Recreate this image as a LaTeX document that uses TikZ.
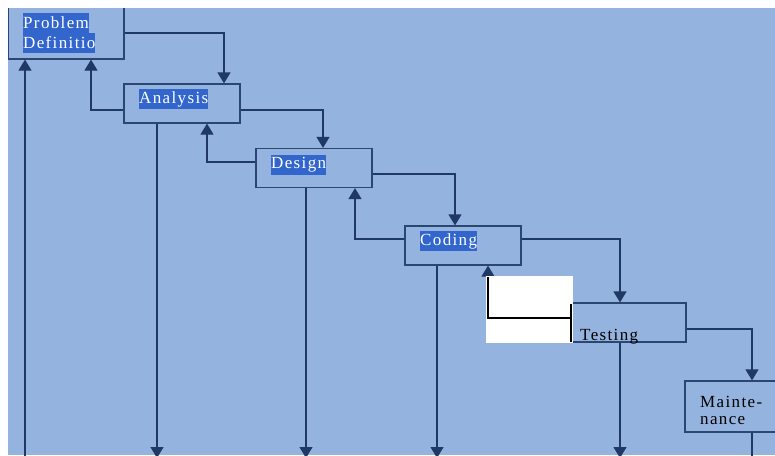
\documentclass[tikz,border=0pt]{standalone}
\usepackage{fontspec}
\setmainfont{Liberation Serif}
\usetikzlibrary{arrows.meta}
\definecolor{bgblue}{RGB}{149,179,223}
\definecolor{navy}{RGB}{31,56,100}
\definecolor{boxc}{RGB}{44,70,114}
\definecolor{hl}{RGB}{51,102,204}
\tikzset{
  stagebox/.style={draw=boxc, line width=1.2pt, minimum width=116pt, minimum height=39pt, inner sep=0pt},
  conn/.style={draw=navy, line width=1.2pt, -{Triangle[width=13pt,length=11pt]}},
  plainline/.style={draw=navy, line width=1.2pt},
  hltext/.style={fill=hl, text=white, inner xsep=0pt, inner ysep=0pt, minimum height=20pt, anchor=west, font=\spacedfont},
  bltext/.style={text=black, inner sep=0pt, anchor=west, font=\spacedfont},
}
\newfontfamily\spacedfamily[LetterSpace=8]{Liberation Serif}
\newcommand{\spacedfont}{\spacedfamily\fontsize{17pt}{20pt}\selectfont}
\begin{document}
\begin{tikzpicture}[x=1pt,y=-1pt]
\useasboundingbox (0,0) rectangle (775,455);
\fill[white] (0,0) rectangle (775,455);
\begin{scope}
\clip (8,8) rectangle (775,455);
\fill[bgblue] (8,8) rectangle (775,455);
% boxes
\node[stagebox, minimum height=60pt] (pd) at (66,29) {};
\node[stagebox] (an) at (182,103.5) {};
\node[stagebox] (de) at (314,168) {};
\node[stagebox] (co) at (463,245.5) {};
\node[stagebox, minimum width=114pt] (te) at (629,322.5) {};
\node[stagebox, minimum height=51pt] (ma) at (743,406.5) {};
% bottom coordinates
\coordinate (b0) at (25,470);
\coordinate (b1) at (157,458);
\coordinate (b2) at (306,458);
\coordinate (b3) at (437,458);
\coordinate (b4) at (620,458);
\coordinate (b5) at (752,470);
% forward connectors
\draw[conn] ([yshift=-4pt]pd.east) -| ([xshift=42pt]an.north);
\draw[conn] ([yshift=-6.5pt]an.east) -| ([xshift=9pt]de.north);
\draw[conn] ([yshift=-6pt]de.east) -| ([xshift=-8pt]co.north);
\draw[conn] ([yshift=6.5pt]co.east) -| ([xshift=-9pt]te.north);
\draw[conn] ([yshift=-6.5pt]te.east) -| ([xshift=9pt]ma.north);
% feedback connectors
\draw[conn] ([yshift=-6.5pt]an.west) -| ([xshift=25pt]pd.south);
\draw[conn] ([yshift=6pt]de.west) -| ([xshift=25pt]an.south);
\draw[conn] ([yshift=6.5pt]co.west) -| ([xshift=41pt]de.south);
\draw[conn] ([yshift=4.5pt]te.west) -| ([xshift=25pt]co.south);
\draw[conn] (b0) -- (b0 |- pd.south);
% downward connectors
\draw[conn] (an.south -| b1) -- (b1);
\draw[conn] (de.south -| b2) -- (b2);
\draw[conn] (co.south -| b3) -- (b3);
\draw[conn] (te.south -| b4) -- (b4);
\draw[plainline] (ma.south -| b5) -- (b5);
% white patch with black lines
\fill[white] (486,275.5) rectangle (573,343);
\draw[black, line width=1.2pt] (488,277) -- (488,318) -- (571,318);
\draw[black, line width=1.2pt] (571,304) -- (571,342);
% labels
\node[hltext] (t1) at (23,23) {Problem};
\node[hltext] (t2) at (23,43) {Definitio};
\node[hltext] (t3) at (139,99) {Analysis};
\node[hltext] (t4) at (271,165) {Design};
\node[hltext] (t5) at (420,241) {Coding};
\node[bltext] (t6) at (580,337) {Testing};
\node[bltext] (t7) at (700,402) {Mainte-};
\node[bltext] (t8) at (700,421) {nance};
\end{scope}
\end{tikzpicture}
\end{document}
